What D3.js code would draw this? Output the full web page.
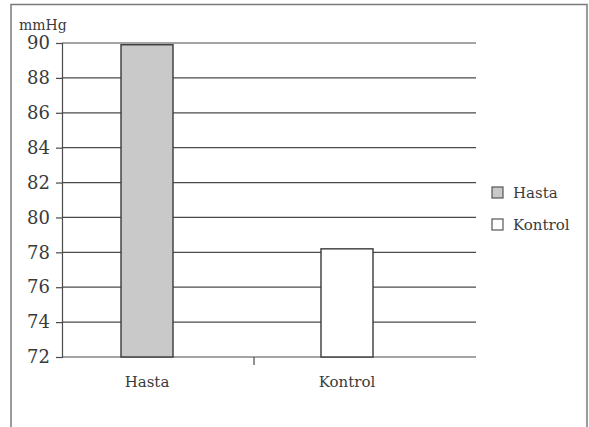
<!DOCTYPE html>
<html>
<head>
<meta charset="utf-8">
<script src="https://cdn.jsdelivr.net/npm/d3@7"></script>
<style>
  html, body { margin: 0; padding: 0; background: #fff; }
  svg { display: block; }
  text { font-family: "DejaVu Serif", "Liberation Serif", serif; fill: #3a3a3a; }
</style>
</head>
<body>
<svg id="chart" width="589" height="427"></svg>
<script>
// Mean blood pressure (mmHg) per group
const categories = ["Hasta", "Kontrol"];
const values = [89.9, 78.2];
const seriesColors = ["#c9c9c9", "#ffffff"];
const yTicks = [72, 74, 76, 78, 80, 82, 84, 86, 88, 90];
const yUnit = "mmHg";

const svg = d3.select("#chart");

// Frame around the figure (open at the bottom)
svg.append("path")
  .attr("d", "M11,430 L11,4.5 L587,4.5 L587,430")
  .attr("fill", "none")
  .attr("stroke", "#7a7a7a")
  .attr("stroke-width", 1.5);

const plot = { left: 62, right: 476, top: 43, bottom: 357 };

const y = d3.scaleLinear().domain([72, 90]).range([plot.bottom, plot.top]);
const x = d3.scalePoint().domain(categories).range([147, 347]);
const barWidth = 52;
const dividerX = 254;

// Horizontal gridlines
svg.append("g").selectAll("line")
  .data(yTicks)
  .join("line")
  .attr("x1", plot.left).attr("x2", plot.right)
  .attr("y1", d => y(d)).attr("y2", d => y(d))
  .attr("stroke", "#4a4a4a").attr("stroke-width", 1.2);

// Y axis with outward ticks
const yAxis = svg.append("g")
  .attr("transform", `translate(${plot.left},0)`)
  .call(d3.axisLeft(y).tickValues(yTicks).tickSize(6).tickPadding(6).tickFormat(d3.format("d")));
yAxis.select(".domain").attr("stroke", "#4a4a4a").attr("stroke-width", 1.2);
yAxis.selectAll(".tick line").attr("stroke", "#4a4a4a").attr("stroke-width", 1.2);
yAxis.selectAll(".tick text")
  .attr("font-family", "DejaVu Serif, Liberation Serif, serif")
  .attr("font-size", 18).attr("fill", "#3a3a3a");

// Unit label above the axis
svg.append("text")
  .attr("x", 19).attr("y", 30)
  .attr("font-size", 14)
  .text(yUnit);

// Category divider tick below the axis
svg.append("line")
  .attr("x1", dividerX).attr("x2", dividerX)
  .attr("y1", plot.bottom).attr("y2", plot.bottom + 8)
  .attr("stroke", "#4a4a4a").attr("stroke-width", 1.2);

// Bars
svg.append("g").selectAll("rect")
  .data(categories.map((c, i) => ({ c, v: values[i], fill: seriesColors[i] })))
  .join("rect")
  .attr("x", d => x(d.c) - barWidth / 2)
  .attr("width", barWidth)
  .attr("y", d => y(d.v))
  .attr("height", d => y(72) - y(d.v))
  .attr("fill", d => d.fill)
  .attr("stroke", "#3a3a3a")
  .attr("stroke-width", 1.4);

// Category labels
svg.append("g").selectAll("text")
  .data(categories)
  .join("text")
  .attr("x", d => x(d))
  .attr("y", 387)
  .attr("text-anchor", "middle")
  .attr("font-size", 15)
  .text(d => d);

// Legend
const legend = svg.append("g").attr("transform", "translate(492,187)");
const items = legend.selectAll("g")
  .data(categories.map((c, i) => ({ c, fill: seriesColors[i] })))
  .join("g")
  .attr("transform", (d, i) => `translate(0,${i * 32})`);
items.append("rect")
  .attr("width", 11).attr("height", 11)
  .attr("fill", d => d.fill)
  .attr("stroke", "#555").attr("stroke-width", 1.2);
items.append("text")
  .attr("x", 21).attr("y", 10.5)
  .attr("font-size", 15)
  .text(d => d.c);
</script>
</body>
</html>
